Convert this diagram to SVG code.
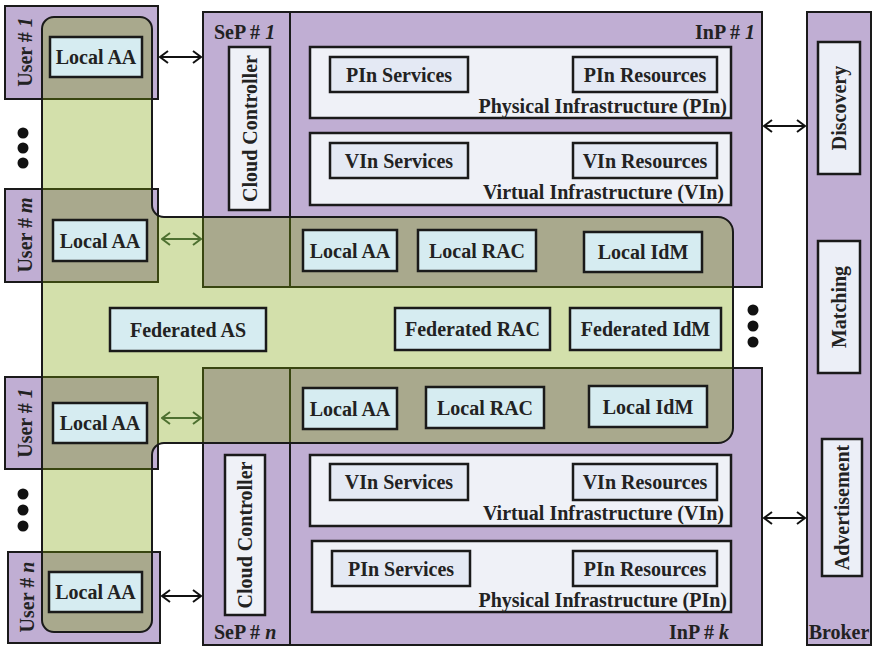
<svg xmlns="http://www.w3.org/2000/svg" width="874" height="649" viewBox="0 0 874 649">
  <style>
    .pur { fill: #c0aed3; stroke: #1a1a1a; stroke-width: 2; }
    .blu { fill: #d6ecf1; stroke: #1a1a1a; stroke-width: 2.5; }
    .inf { fill: #eff1f7; stroke: #1a1a1a; stroke-width: 2.5; }
    .svc { fill: #e4e9f4; stroke: #1a1a1a; stroke-width: 2.5; }
    .vbx { fill: #eceff7; stroke: #1a1a1a; stroke-width: 2.5; }
    text { font-family: "Liberation Serif", "Times New Roman", serif; font-weight: bold; font-size: 20px; fill: #222; }
    .c { text-anchor: middle; dominant-baseline: central; }
    .r { text-anchor: end; }
    .dot { fill: #111; }
    .conn { stroke: #111; stroke-width: 2; fill: none; }
    .connG { stroke: #4d7030; stroke-width: 2; fill: none; }
  </style>
  <defs>
    <marker id="ah" markerWidth="10" markerHeight="14" refX="9" refY="7" orient="auto-start-reverse" markerUnits="userSpaceOnUse">
      <path d="M1,1 L9,7 L1,13" fill="none" stroke="#111" stroke-width="2"/>
    </marker>
    <marker id="ahG" markerWidth="10" markerHeight="14" refX="9" refY="7" orient="auto-start-reverse" markerUnits="userSpaceOnUse">
      <path d="M1,1 L9,7 L1,13" fill="none" stroke="#4d7030" stroke-width="2"/>
    </marker>
  </defs>
  <rect width="874" height="649" fill="#ffffff"/>

  <!-- user domains -->
  <g id="user-1">
    <rect class="pur" x="5" y="6" width="153" height="93"/>
    <text class="c" transform="translate(25,52) rotate(-90)">User # <tspan font-style="italic">1</tspan></text>
  </g>
  <g id="user-m">
    <rect class="pur" x="5" y="189" width="153" height="93"/>
    <text class="c" transform="translate(25,235) rotate(-90)">User # <tspan font-style="italic">m</tspan></text>
  </g>
  <g id="user-1b">
    <rect class="pur" x="5" y="377" width="153" height="92"/>
    <text class="c" transform="translate(25,423) rotate(-90)">User # <tspan font-style="italic">1</tspan></text>
  </g>
  <g id="user-n">
    <rect class="pur" x="8" y="552" width="152" height="91"/>
    <text class="c" transform="translate(27,597) rotate(-90)">User # <tspan font-style="italic">n</tspan></text>
  </g>

  <!-- service providers -->
  <g id="sep-1">
    <rect class="pur" x="203" y="12" width="87" height="275"/>
    <text x="214" y="39">SeP # <tspan font-style="italic">1</tspan></text>
  </g>
  <g id="sep-n">
    <rect class="pur" x="203" y="368" width="87" height="277"/>
    <text x="214" y="639">SeP # <tspan font-style="italic">n</tspan></text>
  </g>

  <!-- infrastructure providers -->
  <g id="inp-1">
    <rect class="pur" x="290" y="12" width="472" height="275"/>
    <text class="r" x="755" y="39">InP # <tspan font-style="italic">1</tspan></text>
  </g>
  <g id="inp-k">
    <rect class="pur" x="290" y="368" width="472" height="277"/>
    <text class="r" x="729" y="639">InP # <tspan font-style="italic">k</tspan></text>
  </g>

  <!-- broker -->
  <g id="broker">
    <rect class="pur" x="807" y="12" width="64" height="633"/>
    <text class="c" x="839" y="632">Broker</text>
  </g>

  <!-- federation area -->
  <g id="federation">
    <path d="M42,29 A12,12 0 0 1 54,17 L140,17 A12,12 0 0 1 152,29 L152,205 A12,12 0 0 0 164,217 L718,217 A15,15 0 0 1 733,232 L733,428 A15,15 0 0 1 718,443 L164,443 A12,12 0 0 0 152,455 L152,620 A12,12 0 0 1 140,632 L54,632 A12,12 0 0 1 42,620 Z"
          fill="#7aa000" fill-opacity="0.33" stroke="#1a1a1a" stroke-width="2"/>
  </g>

  <!-- user local AA -->
  <g id="user-1-aa"><rect class="blu" x="50" y="37" width="92" height="40"/><text class="c" x="96" y="57">Local AA</text></g>
  <g id="user-m-aa"><rect class="blu" x="53" y="220" width="94" height="41"/><text class="c" x="100" y="240.5">Local AA</text></g>
  <g id="user-1b-aa"><rect class="blu" x="53" y="403" width="94" height="40"/><text class="c" x="100" y="423">Local AA</text></g>
  <g id="user-n-aa"><rect class="blu" x="49" y="572" width="93" height="40"/><text class="c" x="95.5" y="592">Local AA</text></g>

  <!-- cloud controllers -->
  <g id="cc-1"><rect class="inf" x="229" y="47" width="41" height="163"/><text class="c" transform="translate(249.5,128.5) rotate(-90)">Cloud Controller</text></g>
  <g id="cc-n"><rect class="inf" x="225" y="455" width="40" height="160"/><text class="c" transform="translate(245,535) rotate(-90)">Cloud Controller</text></g>

  <!-- InP 1 infrastructure layers -->
  <g id="inp1-pin">
    <rect class="inf" x="310" y="47" width="421" height="71"/>
    <text class="r" x="727" y="113">Physical Infrastructure (PIn)</text>
  </g>
  <g id="inp1-pin-svc"><rect class="svc" x="330" y="57" width="138" height="35"/><text class="c" x="399" y="74.5">PIn Services</text></g>
  <g id="inp1-pin-res"><rect class="svc" x="573" y="57" width="144" height="35"/><text class="c" x="645" y="74.5">PIn Resources</text></g>
  <g id="inp1-vin">
    <rect class="inf" x="310" y="133" width="421" height="72"/>
    <text class="r" x="724" y="199">Virtual Infrastructure (VIn)</text>
  </g>
  <g id="inp1-vin-svc"><rect class="svc" x="330" y="143" width="138" height="35"/><text class="c" x="399" y="160.5">VIn Services</text></g>
  <g id="inp1-vin-res"><rect class="svc" x="573" y="143" width="144" height="35"/><text class="c" x="645" y="160.5">VIn Resources</text></g>

  <!-- InP k infrastructure layers -->
  <g id="inpk-vin">
    <rect class="inf" x="310" y="455" width="421" height="71"/>
    <text class="r" x="724" y="520">Virtual Infrastructure (VIn)</text>
  </g>
  <g id="inpk-vin-svc"><rect class="svc" x="330" y="464" width="138" height="36"/><text class="c" x="399" y="482">VIn Services</text></g>
  <g id="inpk-vin-res"><rect class="svc" x="573" y="464" width="144" height="36"/><text class="c" x="645" y="482">VIn Resources</text></g>
  <g id="inpk-pin">
    <rect class="inf" x="312" y="541" width="419" height="71"/>
    <text class="r" x="727" y="607">Physical Infrastructure (PIn)</text>
  </g>
  <g id="inpk-pin-svc"><rect class="svc" x="332" y="551" width="138" height="35"/><text class="c" x="401" y="568.5">PIn Services</text></g>
  <g id="inpk-pin-res"><rect class="svc" x="573" y="551" width="144" height="35"/><text class="c" x="645" y="568.5">PIn Resources</text></g>

  <!-- local access control in InP 1 -->
  <g id="inp1-aa"><rect class="blu" x="303" y="230" width="94" height="41"/><text class="c" x="350" y="250.5">Local AA</text></g>
  <g id="inp1-rac"><rect class="blu" x="418" y="230" width="118" height="41"/><text class="c" x="477" y="250.5">Local RAC</text></g>
  <g id="inp1-idm"><rect class="blu" x="584" y="232" width="118" height="40"/><text class="c" x="643" y="252">Local IdM</text></g>

  <!-- federated services -->
  <g id="fed-as"><rect class="blu" x="110" y="308" width="156" height="43"/><text class="c" x="188" y="329.5">Federated AS</text></g>
  <g id="fed-rac"><rect class="blu" x="395" y="308" width="155" height="42"/><text class="c" x="472.5" y="329">Federated RAC</text></g>
  <g id="fed-idm"><rect class="blu" x="570" y="308" width="151" height="42"/><text class="c" x="645.5" y="329">Federated IdM</text></g>

  <!-- local access control in InP k -->
  <g id="inpk-aa"><rect class="blu" x="303" y="388" width="94" height="41"/><text class="c" x="350" y="408.5">Local AA</text></g>
  <g id="inpk-rac"><rect class="blu" x="426" y="387" width="118" height="41"/><text class="c" x="485" y="407.5">Local RAC</text></g>
  <g id="inpk-idm"><rect class="blu" x="589" y="386" width="118" height="41"/><text class="c" x="648" y="406.5">Local IdM</text></g>

  <!-- broker functions -->
  <g id="discovery"><rect class="vbx" x="818" y="42" width="42" height="132"/><text class="c" transform="translate(839,108) rotate(-90)">Discovery</text></g>
  <g id="matching"><rect class="vbx" x="818" y="241" width="42" height="132"/><text class="c" transform="translate(839,307) rotate(-90)">Matching</text></g>
  <g id="advertisement"><rect class="vbx" x="822" y="439" width="40" height="137"/><text class="c" transform="translate(842,507.5) rotate(-90)">Advertisement</text></g>

  <!-- ellipsis dots -->
  <g id="dots">
    <circle class="dot" cx="23" cy="133" r="5.5"/><circle class="dot" cx="23" cy="148" r="5.5"/><circle class="dot" cx="23" cy="163" r="5.5"/>
    <circle class="dot" cx="23" cy="494" r="5.5"/><circle class="dot" cx="23" cy="510" r="5.5"/><circle class="dot" cx="23" cy="526" r="5.5"/>
    <circle class="dot" cx="753" cy="310" r="5.5"/><circle class="dot" cx="753" cy="326" r="5.5"/><circle class="dot" cx="753" cy="342" r="5.5"/>
  </g>

  <!-- connectors -->
  <g id="connectors">
    <line class="conn" x1="160" y1="57" x2="201" y2="57" marker-start="url(#ah)" marker-end="url(#ah)"/>
    <line class="connG" x1="162" y1="239" x2="201" y2="239" marker-start="url(#ahG)" marker-end="url(#ahG)"/>
    <line class="connG" x1="162" y1="418" x2="201" y2="418" marker-start="url(#ahG)" marker-end="url(#ahG)"/>
    <line class="conn" x1="162" y1="596" x2="201" y2="596" marker-start="url(#ah)" marker-end="url(#ah)"/>
    <line class="conn" x1="764" y1="126" x2="805" y2="126" marker-start="url(#ah)" marker-end="url(#ah)"/>
    <line class="conn" x1="764" y1="518" x2="805" y2="518" marker-start="url(#ah)" marker-end="url(#ah)"/>
  </g>
</svg>
